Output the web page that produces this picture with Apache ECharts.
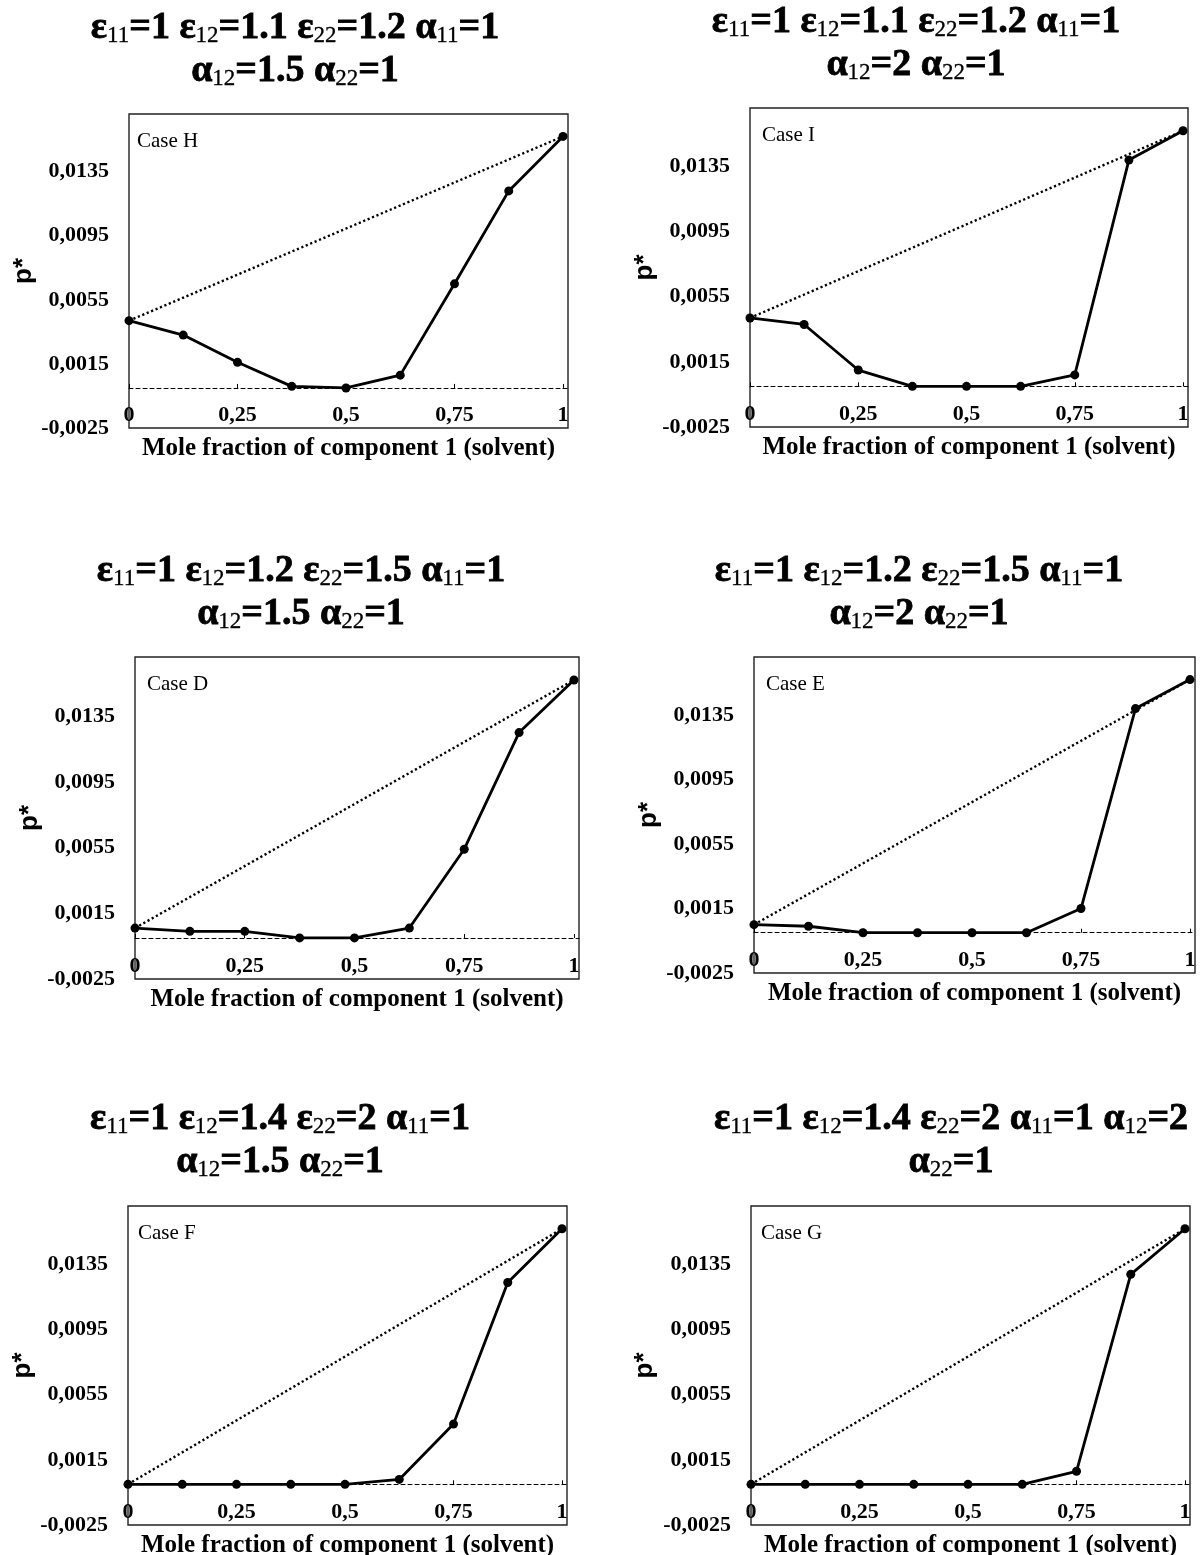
<!DOCTYPE html>
<html>
<head>
<meta charset="utf-8">
<script src="https://cdn.jsdelivr.net/npm/echarts@6/dist/echarts.min.js"></script>
<style>
  html, body { margin: 0; padding: 0; background: #fff; }
  #chart { width: 1200px; height: 1555px; }
</style>
</head>
<body>
<div id="chart"></div>
<script>
// Mole fraction of component 1 at which p* was computed
const moleFraction = [0, 0.125, 0.25, 0.375, 0.5, 0.625, 0.75, 0.875, 1];

// Tick labels
const xTickValues = [0, 0.25, 0.5, 0.75, 1];
const yTickValues = [-0.0025, 0.0015, 0.0055, 0.0095, 0.0135];

// Panel headings (digits after ε / α are subscripts) and case labels
const panelTitles = [
  'ε11=1 ε12=1.1 ε22=1.2 α11=1\nα12=1.5 α22=1',
  'ε11=1 ε12=1.1 ε22=1.2 α11=1\nα12=2 α22=1',
  'ε11=1 ε12=1.2 ε22=1.5 α11=1\nα12=1.5 α22=1',
  'ε11=1 ε12=1.2 ε22=1.5 α11=1\nα12=2 α22=1',
  'ε11=1 ε12=1.4 ε22=2 α11=1\nα12=1.5 α22=1',
  'ε11=1 ε12=1.4 ε22=2 α11=1 α12=2\nα22=1'
];
const caseNames = ['Case H', 'Case I', 'Case D', 'Case E', 'Case F', 'Case G'];

// p* values for each case
const pCaseH = [0.0042, 0.0033, 0.0016, 0.0001, 0.0000, 0.0008, 0.0065, 0.0123, 0.0157];
const pCaseI = [0.0042, 0.0038, 0.0010, 0.0000, 0.0000, 0.0000, 0.0007, 0.0139, 0.0157];
const pCaseD = [0.0006, 0.0004, 0.0004, 0.0000, 0.0000, 0.0006, 0.0054, 0.0125, 0.0157];
const pCaseE = [0.0005, 0.0004, 0.0000, 0.0000, 0.0000, 0.0000, 0.0015, 0.0139, 0.0157];
const pCaseF = [0.0000, 0.0000, 0.0000, 0.0000, 0.0000, 0.0003, 0.0037, 0.0124, 0.0157];
const pCaseG = [0.0000, 0.0000, 0.0000, 0.0000, 0.0000, 0.0000, 0.0008, 0.0129, 0.0157];

const caseValues = [pCaseH, pCaseI, pCaseD, pCaseE, pCaseF, pCaseG];

// Plot frames in pixels, heading centres and label offsets
const frames = [
  { left: 129, top: 114, width: 439, height: 314, titleX: 295, titleTop: 4, nameGapY: 88, caseDx: 8 },
  { left: 750, top: 108, width: 438, height: 319, titleX: 916, titleTop: -2, nameGapY: 92, caseDx: 12 },
  { left: 135, top: 657, width: 444, height: 322, titleX: 301, titleTop: 547, nameGapY: 87, caseDx: 12 },
  { left: 754, top: 657, width: 441, height: 316, titleX: 919, titleTop: 547, nameGapY: 91, caseDx: 12 },
  { left: 128, top: 1206, width: 439, height: 319, titleX: 280, titleTop: 1095, nameGapY: 87, caseDx: 10 },
  { left: 751, top: 1206, width: 439, height: 319, titleX: 951, titleTop: 1095, nameGapY: 93, caseDx: 10 }
];

const SERIF = '"Liberation Serif", "Times New Roman", serif';
const SANS = '"Liberation Sans", Arial, sans-serif';

function commaDecimal(v) {
  return String(v).replace('.', ',');
}

// Turn 'ε11=1 ...' into rich text with subscripted indices
function toRich(text) {
  return text.split('\n').map(function (line) {
    let out = '';
    const re = /([εα])(\d+)/g;
    let last = 0, m;
    while ((m = re.exec(line)) !== null) {
      const before = line.slice(last, m.index) + m[1];
      out += '{b|' + before + '}{s|' + m[2] + '}';
      last = re.lastIndex;
    }
    if (last < line.length) out += '{b|' + line.slice(last) + '}';
    return out;
  }).join('\n');
}

const grids = [], xAxes = [], yAxes = [], series = [], titles = [];

frames.forEach(function (f, i) {
  grids.push({
    left: f.left, top: f.top, width: f.width, height: f.height,
    show: true, borderColor: '#222', borderWidth: 1.4, backgroundColor: 'transparent',
    containLabel: false, outerBoundsMode: 'none'
  });

  xAxes.push({
    type: 'value', gridIndex: i, min: 0, max: 1.0115,
    name: 'Mole fraction of component 1 (solvent)',
    nameLocation: 'middle', nameGap: 8,
    nameTextStyle: { fontFamily: SERIF, fontWeight: 'bold', fontSize: 25, color: '#000' },
    axisLine: { show: true, onZero: true, lineStyle: { color: '#000', width: 1, type: [4, 3] } },
    axisTick: { show: true, inside: true, length: 4, customValues: xTickValues, lineStyle: { color: '#000', width: 1 } },
    axisLabel: {
      show: true, customValues: xTickValues, margin: -24,
      fontFamily: SERIF, fontWeight: 'bold', fontSize: 22, color: '#000',
      formatter: commaDecimal
    },
    splitLine: { show: false }
  });

  yAxes.push({
    type: 'value', gridIndex: i, min: -0.0025, max: 0.0171,
    name: 'p*', nameLocation: 'middle', nameGap: f.nameGapY, nameRotate: 90,
    nameTextStyle: { fontFamily: SANS, fontWeight: 'bold', fontSize: 26, color: '#000' },
    axisLine: { show: false, onZero: false },
    axisTick: { show: false },
    axisLabel: {
      show: true, customValues: yTickValues, margin: 20,
      fontFamily: SERIF, fontWeight: 'bold', fontSize: 22, color: '#000',
      formatter: commaDecimal
    },
    splitLine: { show: false }
  });

  const vals = caseValues[i];
  const pts = moleFraction.map(function (x, k) { return [x, vals[k]]; });

  // straight line joining the two pure-component values
  series.push({
    type: 'line', xAxisIndex: i, yAxisIndex: i, silent: true,
    data: [pts[0], pts[pts.length - 1]],
    symbol: 'none',
    lineStyle: { color: '#000', width: 2.4, type: [2.2, 2.6] },
    z: 2
  });

  series.push({
    type: 'line', xAxisIndex: i, yAxisIndex: i, silent: true,
    data: pts,
    symbol: 'circle', symbolSize: 9,
    itemStyle: { color: '#000' },
    lineStyle: { color: '#000', width: 2.8 },
    z: 3
  });

  titles.push({
    text: toRich(panelTitles[i]),
    left: f.titleX, top: f.titleTop, textAlign: 'center', padding: 0,
    textStyle: {
      rich: {
        b: { fontFamily: SERIF, fontWeight: 'bold', fontSize: 38, color: '#000', lineHeight: 43, verticalAlign: 'bottom',
             textBorderColor: '#000', textBorderWidth: 0.8 },
        s: { fontFamily: SERIF, fontWeight: 'normal', fontSize: 23, color: '#000', lineHeight: 37, verticalAlign: 'bottom',
             textBorderColor: '#000', textBorderWidth: 0.3 }
      }
    }
  });

  titles.push({
    text: caseNames[i],
    left: f.left + f.caseDx, top: f.top + 17, padding: 0,
    textStyle: { fontFamily: SERIF, fontWeight: 'normal', fontSize: 21, color: '#000' }
  });
});

const chart = echarts.init(document.getElementById('chart'), null, { renderer: 'canvas' });
chart.setOption({
  backgroundColor: '#fff',
  animation: false,
  title: titles,
  grid: grids,
  xAxis: xAxes,
  yAxis: yAxes,
  series: series
});
</script>
</body>
</html>
